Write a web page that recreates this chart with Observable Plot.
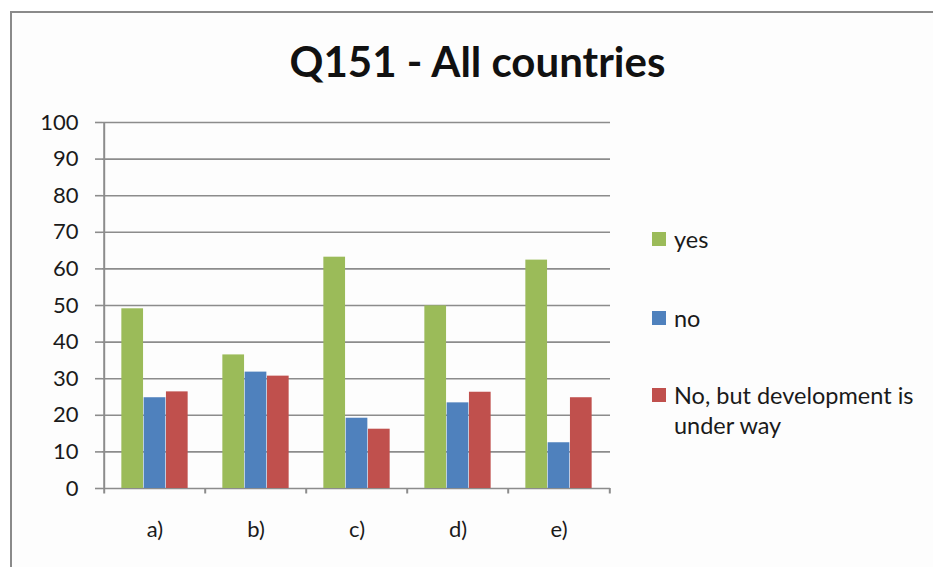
<!DOCTYPE html>
<html>
<head>
<meta charset="utf-8">
<script src="https://cdn.jsdelivr.net/npm/d3@7"></script>
<script src="https://cdn.jsdelivr.net/npm/@observablehq/plot@0.6"></script>
<style>
  html, body { margin: 0; padding: 0; background: #fff; }
  #wrap { position: relative; width: 933px; height: 567px; overflow: hidden; font-family: Lato, "Open Sans", sans-serif; }
  #frame { position: absolute; left: 10px; top: 11px; width: 940px; height: 600px; border: 2px solid #8a8a8a; background: #fdfdfd; box-sizing: border-box; }
  #chart { position: absolute; left: 0; top: 0; }
  #title { position: absolute; left: 0; width: 955px; top: 40px; text-align: center; font-weight: 700; font-size: 42px; color: #111; line-height: 1; }
  .leg { position: absolute; left: 652px; font-size: 23.5px; color: #1a1a1a; line-height: 30px; }
  .leg .sw { position: absolute; left: 0; width: 14px; height: 14px; }
  .leg .tx { position: absolute; left: 22px; white-space: nowrap; }
</style>
</head>
<body>
<div id="wrap">
  <div id="frame"></div>
  <div id="chart"></div>
  <div id="title">Q151 - All countries</div>
  <div id="legend"></div>
</div>
<script>
const categories = ["a)", "b)", "c)", "d)", "e)"];
const seriesNames = ["yes", "no", "No, but development is under way"];
const yesValues = [49.1, 36.5, 63.2, 49.9, 62.4];
const noValues = [24.8, 31.8, 19.2, 23.4, 12.5];
const devValues = [26.4, 30.7, 16.2, 26.3, 24.8];
const colors = ["#9BBB59", "#4F81BD", "#C0504D"];
const yTicks = [0, 10, 20, 30, 40, 50, 60, 70, 80, 90, 100];

const seriesValues = [yesValues, noValues, devValues];
const data = [];
seriesNames.forEach((s, j) => categories.forEach((c, i) => data.push({cat: c, series: s, value: seriesValues[j][i], j})));

const W = 933, H = 567;
const mL = 102, mR = W - 610, mT = 122, mB = H - 488;
const bw = (W - mL - mR) / categories.length;
const barW = 22.3;
const inset = (bw - barW) / 2;
const grid = "#8c8c8c";

const marks = [
  Plot.ruleY(yTicks, {y: d => d, stroke: grid, strokeWidth: 1.6, strokeOpacity: 1}),
  ...seriesNames.map((s, j) => Plot.barY(data.filter(d => d.series === s), {
    x: "cat", y: "value", fill: colors[j], insetLeft: inset, insetRight: inset, dx: (j - 1) * barW
  })),
  Plot.ruleX([categories[0]], {x: d => d, dx: -bw / 2, y1: -1.5, y2: 100, stroke: grid, strokeWidth: 2}),
  Plot.ruleX(categories.slice(1), {x: d => d, dx: -bw / 2, y1: -1.5, y2: 0, stroke: grid, strokeWidth: 2}),
  Plot.ruleX([categories[categories.length - 1]], {x: d => d, dx: bw / 2, y1: -1.5, y2: 0, stroke: grid, strokeWidth: 2}),
  Plot.axisY({ticks: yTicks, tickSize: 7, tickPadding: 17, fontSize: 22, stroke: grid, strokeWidth: 1.6, label: null, fill: "#1a1a1a"}),
  Plot.axisX({tickSize: 0, tickPadding: 33, fontSize: 22, label: null, fill: "#1a1a1a"})
];

const svg = Plot.plot({
  width: W, height: H,
  marginLeft: mL, marginRight: mR, marginTop: mT, marginBottom: mB,
  x: {type: "band", domain: categories, padding: 0},
  y: {domain: [0, 100]},
  style: {background: "transparent", fontFamily: "Lato, 'Open Sans', sans-serif", color: "#1a1a1a"},
  marks
});
document.getElementById("chart").appendChild(svg);

const legendTops = [232, 311, 388];
const legend = document.getElementById("legend");
seriesNames.forEach((s, j) => {
  const row = document.createElement("div");
  row.className = "leg";
  row.style.top = legendTops[j] + "px";
  const sw = document.createElement("div");
  sw.className = "sw";
  sw.style.background = colors[j];
  row.appendChild(sw);
  const tx = document.createElement("div");
  tx.className = "tx";
  tx.style.top = "-8px";
  if (j === 2) {
    tx.innerHTML = "No, but development is<br>under way";
  } else {
    tx.textContent = s;
  }
  row.appendChild(tx);
  legend.appendChild(row);
});
</script>
</body>
</html>
